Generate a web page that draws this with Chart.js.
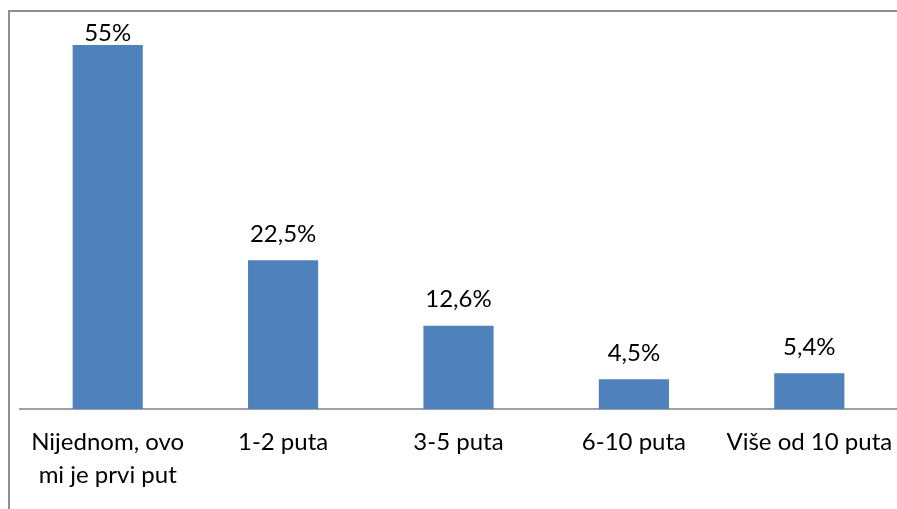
<!DOCTYPE html>
<html>
<head>
<meta charset="utf-8">
<script src="https://cdn.jsdelivr.net/npm/chart.js@4"></script>
<style>
  html, body { margin: 0; padding: 0; background: #fff; overflow: hidden; }
  #wrap { position: relative; width: 897px; height: 509px; overflow: hidden; }
  #frame {
    position: absolute; left: 8px; top: 10px; width: 889px; height: 499px;
    border-left: 2px solid #8e8e8e; border-top: 2px solid #8e8e8e; box-sizing: border-box;
  }
  canvas { position: absolute; left: 0; top: 0; }
</style>
</head>
<body>
<div id="wrap">
  <div id="frame"></div>
  <canvas id="c" width="897" height="509"></canvas>
</div>
<script>
// Categories and values
const categories = [['Nijednom, ovo', 'mi je prvi put'], '1-2 puta', '3-5 puta', '6-10 puta', 'Više od 10 puta'];
const values = [55, 22.5, 12.6, 4.5, 5.4];
const valueLabels = ['55%', '22,5%', '12,6%', '4,5%', '5,4%'];

const FONT = 'Lato, "Open Sans", sans-serif';

// Draw value labels above each bar, kept inside the plot top
const valueLabelPlugin = {
  id: 'valueLabels',
  afterDatasetsDraw(chart) {
    const { ctx, chartArea } = chart;
    const meta = chart.getDatasetMeta(0);
    ctx.save();
    ctx.font = '24px ' + FONT;
    ctx.fillStyle = '#000';
    ctx.textAlign = 'center';
    ctx.textBaseline = 'middle';
    meta.data.forEach((bar, i) => {
      const y = Math.max(bar.y - 26, chartArea.top + 21);
      ctx.fillText(valueLabels[i], bar.x, y);
    });
    ctx.restore();
  },
};

new Chart(document.getElementById('c'), {
  type: 'bar',
  data: {
    labels: categories,
    datasets: [{
      data: values,
      backgroundColor: '#4f81bd',
      borderWidth: 0,
      barPercentage: 0.4,
      categoryPercentage: 1,
    }],
  },
  options: {
    responsive: false,
    animation: false,
    layout: { padding: { left: 20, right: -1, top: 12, bottom: 8 } },
    plugins: { legend: { display: false }, tooltip: { enabled: false } },
    scales: {
      x: {
        grid: { display: false },
        border: { display: true, color: '#a0a0a0', width: 2 },
        // let the plot run to the right edge like the original
        afterFit(scale) { scale.paddingRight = -1; },
        ticks: {
          color: '#000',
          font: { family: FONT, size: 24, lineHeight: 1.375 },
          padding: 9,
          maxRotation: 0,
          autoSkip: false,
        },
      },
      y: { display: false, min: 0, max: 60 },
    },
  },
  plugins: [valueLabelPlugin],
});
</script>
</body>
</html>
